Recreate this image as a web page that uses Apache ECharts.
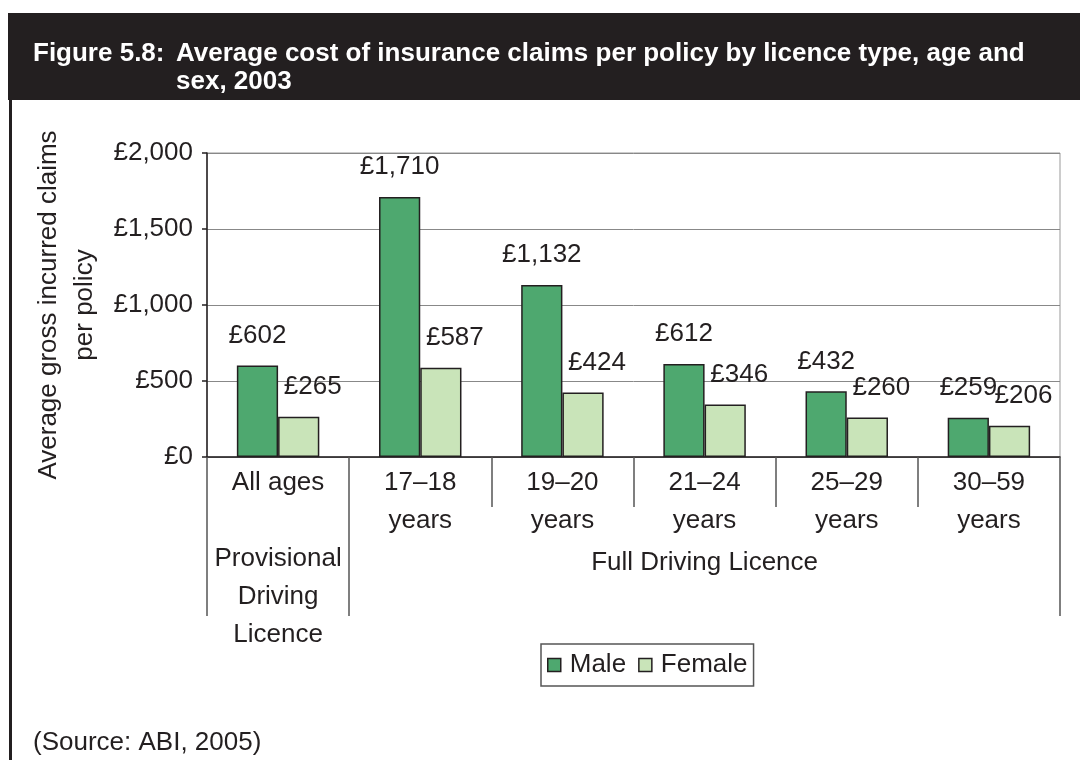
<!DOCTYPE html>
<html>
<head>
<meta charset="utf-8">
<script src="https://cdn.jsdelivr.net/npm/echarts@6/dist/echarts.min.js"></script>
<style>
  html, body { margin: 0; padding: 0; background: #fff; }
  #chart { width: 1080px; height: 760px; }
</style>
</head>
<body>
<div id="chart"></div>
<script>
  // data
  const categories = ['All ages', '17–18\nyears', '19–20\nyears', '21–24\nyears', '25–29\nyears', '30–59\nyears'];
  const licenceLabels = ['Provisional\nDriving\nLicence', '', '', 'Full Driving Licence', '', ''];
  const maleValues = [602, 1710, 1132, 612, 432, 259];
  const femaleValues = [265, 587, 424, 346, 260, 206];
  const seriesNames = ['Male', 'Female'];
  const yMin = 0, yMax = 2000, yStep = 500;

  const ink = '#231f20';
  const font = '"Liberation Sans", Arial, Helvetica, sans-serif';
  const fs = 26;

  function pounds(v) {
    return '£' + Number(v).toLocaleString('en-GB');
  }

  let myChart = echarts.init(document.getElementById('chart'));

  let option = {
    animation: false,
    textStyle: { fontFamily: font, color: ink },
    graphic: [
      // black title band + left frame line
      { type: 'rect', shape: { x: 8, y: 13, width: 1072, height: 87 }, style: { fill: ink }, z: 0 },
      { type: 'rect', shape: { x: 9, y: 100, width: 3, height: 660 }, style: { fill: ink }, z: 0 }
    ],
    title: [
      {
        text: 'Figure 5.8:',
        left: 33, top: 40, padding: 0,
        textStyle: { color: '#fff', fontSize: fs, fontWeight: 'bold', lineHeight: 28, fontFamily: font }
      },
      {
        text: 'Average cost of insurance claims per policy by licence type, age and\nsex, 2003',
        left: 176, top: 40, padding: 0,
        textStyle: { color: '#fff', fontSize: fs, fontWeight: 'bold', lineHeight: 28, fontFamily: font }
      },
      {
        text: '(Source: ABI, 2005)',
        left: 33, top: 730, padding: 0,
        textStyle: { color: ink, fontSize: fs, fontWeight: 'normal', lineHeight: 26, fontFamily: font }
      }
    ],
    legend: {
      data: seriesNames,
      left: 541, top: 644,
      padding: [8, 6],
      itemGap: 12,
      itemWidth: 13, itemHeight: 13,
      icon: 'rect',
      selectedMode: false,
      borderColor: '#555', borderWidth: 1.5,
      itemStyle: { borderColor: ink, borderWidth: 1.5 },
      textStyle: { fontSize: fs, color: ink, fontFamily: font, padding: [0, 0, 0, 4] }
    },
    grid: {
      left: 207, right: 20, top: 153, bottom: 303,
      show: true, borderColor: '#999', borderWidth: 1
    },
    xAxis: [
      {
        type: 'category',
        data: categories,
        axisLine: { show: true, lineStyle: { color: ink, width: 1.5 } },
        axisTick: { show: true, interval: 0, length: 50, lineStyle: { color: '#555', width: 1.5 } },
        axisLabel: { interval: 0, fontSize: fs, lineHeight: 38, margin: 7, color: ink, fontFamily: font }
      },
      {
        type: 'category',
        position: 'bottom',
        data: categories,
        axisLine: { show: false },
        axisTick: {
          show: true,
          interval: function (index) { return index <= 1; },
          length: 159,
          lineStyle: { color: '#555', width: 1.5 }
        },
        axisLabel: {
          interval: 0, fontSize: fs, lineHeight: 38, margin: 83, color: ink, fontFamily: font,
          formatter: function (value, index) {
            let s = licenceLabels[index];
            if (index === 3) return '{f|' + s + '}';
            return s;
          },
          rich: { f: { fontSize: fs, lineHeight: 46, color: ink, fontFamily: font } }
        },
        splitLine: { show: false }
      }
    ],
    yAxis: {
      type: 'value',
      min: yMin, max: yMax, interval: yStep,
      name: 'Average gross incurred claims\nper policy',
      nameLocation: 'middle',
      nameGap: 98,
      nameTextStyle: { fontSize: fs, lineHeight: 36, color: ink, fontFamily: font },
      axisLine: { show: true, lineStyle: { color: ink, width: 1.5 } },
      axisTick: { show: true, length: 5, lineStyle: { color: ink, width: 1.5 } },
      axisLabel: { fontSize: fs, margin: 14, color: ink, fontFamily: font, formatter: pounds },
      splitLine: { lineStyle: { color: '#888', width: 1 } }
    },
    series: [
      {
        name: seriesNames[0],
        type: 'bar',
        data: maleValues,
        barGap: '0%',
        barCategoryGap: '42%',
        itemStyle: { color: '#4ea86f', borderColor: ink, borderWidth: 1.5 },
        label: {
          show: true, position: 'top', distance: 17,
          fontSize: fs, color: ink, fontFamily: font,
          formatter: function (p) { return pounds(p.value); }
        }
      },
      {
        name: seriesNames[1],
        type: 'bar',
        data: femaleValues,
        barGap: '0%',
        barCategoryGap: '42%',
        itemStyle: { color: '#c9e4b9', borderColor: ink, borderWidth: 1.5 },
        label: {
          show: true, position: 'top', distance: 17, offset: [14, 0],
          fontSize: fs, color: ink, fontFamily: font,
          formatter: function (p) { return pounds(p.value); }
        }
      }
    ]
  };
  myChart.setOption(option);
</script>
</body>
</html>
